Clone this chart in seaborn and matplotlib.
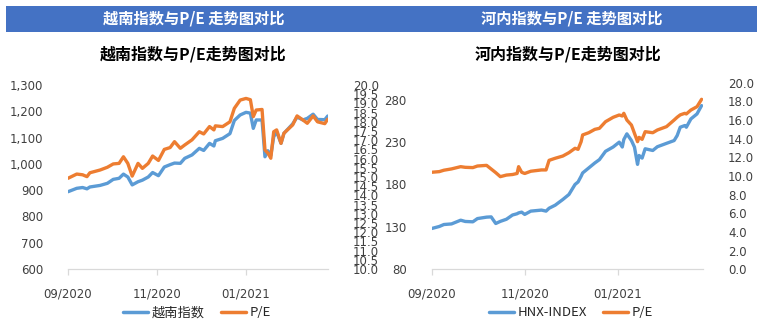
import matplotlib
matplotlib.use("Agg")
import matplotlib.pyplot as plt
import matplotlib.dates as mdates
from matplotlib.patches import Rectangle
from matplotlib.ticker import FuncFormatter, MultipleLocator, FixedLocator
from matplotlib.lines import Line2D
import seaborn as sns
import pandas as pd
import numpy as np

sns.set_theme(style="white")
plt.rcParams['font.family'] = ['DejaVu Sans', 'Noto Sans CJK SC']

# ---------------- data: Vietnam index vs P/E ----------------
vn_dates = ["2020-09-01", "2020-09-07", "2020-09-11", "2020-09-14", "2020-09-16", "2020-09-23",
            "2020-09-28", "2020-10-02", "2020-10-06", "2020-10-09", "2020-10-12", "2020-10-15",
            "2020-10-19", "2020-10-22", "2020-10-26", "2020-10-29", "2020-11-02", "2020-11-06",
            "2020-11-10", "2020-11-13", "2020-11-17", "2020-11-20", "2020-11-25", "2020-11-30",
            "2020-12-03", "2020-12-07", "2020-12-10", "2020-12-11", "2020-12-16", "2020-12-21",
            "2020-12-24", "2020-12-28", "2021-01-01", "2021-01-04", "2021-01-06", "2021-01-08",
            "2021-01-12", "2021-01-14", "2021-01-16", "2021-01-18", "2021-01-20", "2021-01-22",
            "2021-01-25", "2021-01-27", "2021-02-02", "2021-02-05", "2021-02-09", "2021-02-12",
            "2021-02-16", "2021-02-19", "2021-02-24", "2021-02-26"]
vn_index = [894, 907, 910, 905, 912, 918,
            926, 941, 945, 961, 950, 920,
            932, 938, 950, 967, 955, 988,
            997, 1003, 1002, 1021, 1034, 1059,
            1051, 1078, 1068, 1088, 1097, 1115,
            1165, 1186, 1196, 1193, 1135, 1167,
            1167, 1027, 1050, 1032, 1103, 1122,
            1078, 1116, 1152, 1178, 1167, 1173,
            1189, 1169, 1168, 1182]
vn_pe = [14.93, 15.16, 15.12, 15.02, 15.23, 15.38,
         15.53, 15.71, 15.74, 16.10, 15.74, 15.05,
         15.74, 15.47, 15.74, 16.14, 15.90, 16.50,
         16.60, 16.92, 16.56, 16.74, 17.02, 17.46,
         17.34, 17.74, 17.56, 17.78, 17.74, 18.00,
         18.73, 19.18, 19.27, 19.20, 18.28, 18.64,
         18.67, 16.47, 16.30, 16.02, 17.46, 17.56,
         16.83, 17.38, 17.83, 18.32, 18.10, 17.92,
         18.32, 18.00, 17.90, 18.14]

# ---------------- data: HNX index vs P/E ----------------
hnx_dates = ["2020-09-01", "2020-09-06", "2020-09-09", "2020-09-14", "2020-09-20", "2020-09-23",
             "2020-09-28", "2020-10-01", "2020-10-07", "2020-10-10", "2020-10-13", "2020-10-16",
             "2020-10-20", "2020-10-24", "2020-10-27", "2020-10-28", "2020-10-30", "2020-11-01",
             "2020-11-05", "2020-11-12", "2020-11-15", "2020-11-17", "2020-11-21", "2020-11-26",
             "2020-11-30", "2020-12-04", "2020-12-06", "2020-12-08", "2020-12-09", "2020-12-13",
             "2020-12-17", "2020-12-20", "2020-12-24", "2020-12-29", "2021-01-02", "2021-01-04",
             "2021-01-05", "2021-01-07", "2021-01-10", "2021-01-12", "2021-01-14", "2021-01-15",
             "2021-01-17", "2021-01-19", "2021-01-24", "2021-01-27", "2021-02-02", "2021-02-07",
             "2021-02-09", "2021-02-11", "2021-02-14", "2021-02-15", "2021-02-18", "2021-02-22",
             "2021-02-25"]
hnx_index = [128.1, 130.5, 132.8, 133.5, 137.9, 136.4,
             136.0, 139.8, 141.5, 141.8, 134.0, 136.5,
             139.0, 144.0, 145.5, 146.5, 147.4, 144.7,
             148.6, 149.8, 148.6, 152.0, 155.6, 162.3,
             168.2, 180.0, 183.0, 189.7, 193.6, 199.5,
             205.4, 209.3, 219.1, 224.2, 229.9, 224.2,
             233.0, 239.7, 231.8, 224.0, 203.7, 214.2,
             211.1, 222.1, 220.1, 224.5, 228.5, 231.8,
             237.7, 247.5, 249.5, 247.5, 257.3, 263.2,
             273.0]
hnx_pe = [10.40, 10.47, 10.62, 10.76, 11.00, 10.93,
          10.90, 11.07, 11.14, 10.75, 10.36, 9.93,
          10.10, 10.16, 10.27, 11.00, 10.40, 10.27,
          10.51, 10.65, 10.65, 11.68, 11.90, 12.14,
          12.50, 12.97, 12.86, 13.68, 14.40, 14.64,
          15.00, 15.11, 15.82, 16.29, 16.54, 16.43,
          16.72, 16.00, 15.46, 14.57, 13.68, 14.14,
          13.93, 14.75, 14.64, 14.93, 15.29, 16.00,
          16.30, 16.55, 16.72, 16.65, 17.07, 17.43,
          18.22]

header_titles = ["越南指数与P/E 走势图对比", "河内指数与P/E 走势图对比"]
chart_titles = ["越南指数与P/E走势图对比", "河内指数与P/E走势图对比"]
legend_labels = [["越南指数", "P/E"], ["HNX-INDEX", "P/E"]]
vn_left_ticks = [600, 700, 800, 900, 1000, 1100, 1200, 1300]
hnx_left_ticks = [80, 130, 180, 230, 280]

BLUE = "#5B9BD5"
ORANGE = "#ED7D31"
W, H = 762, 326

fig = plt.figure(figsize=(W / 100, H / 100), dpi=100)
fig.patch.set_facecolor("white")


def fx(px):
    return px / W


def fy(py):
    return 1 - py / H


# header bar
fig.patches.append(Rectangle((fx(6), fy(32)), fx(751), 26 / H, transform=fig.transFigure,
                             facecolor="#4472C4", edgecolor="none", zorder=0))
for cx, t in zip([194, 572], header_titles):
    fig.text(fx(cx), fy(19), t, color="white", ha="center", va="center", fontsize=11,
             fontweight="bold", family=["Noto Sans CJK SC", "DejaVu Sans"])
for cx, t in zip([193, 568], chart_titles):
    fig.text(fx(cx), fy(54), t, color="black", ha="center", va="center", fontsize=11.5,
             fontweight="bold", family=["Noto Sans CJK SC", "DejaVu Sans"])

start = pd.Timestamp("2020-09-01")
end = start + pd.Timedelta(days=178)

specs = [
    dict(dates=vn_dates, idx=vn_index, pe=vn_pe, x0=68, x1=327.7, ytop=85, ybot=269,
         ylim=(600, 1300), yticks=vn_left_ticks, y2lim=(10, 20), y2step=0.5,
         lfmt=lambda v, p: f"{v:,.0f}", leg=legend_labels[0], legx=197),
    dict(dates=hnx_dates, idx=hnx_index, pe=hnx_pe, x0=431.7, x1=703.1, ytop=82.7, ybot=269.3,
         ylim=(80, 300), yticks=hnx_left_ticks, y2lim=(0, 20), y2step=2,
         lfmt=lambda v, p: f"{v:.0f}", leg=legend_labels[1], legx=571),
]

for s in specs:
    ax = fig.add_axes([fx(s["x0"]), fy(s["ybot"]), fx(s["x1"] - s["x0"]), (s["ybot"] - s["ytop"]) / H])
    ax2 = ax.twinx()
    df = pd.DataFrame({"date": pd.to_datetime(s["dates"]), "idx": s["idx"], "pe": s["pe"]})
    sns.lineplot(data=df, x="date", y="idx", ax=ax, color=BLUE, linewidth=2.4, legend=False)
    sns.lineplot(data=df, x="date", y="pe", ax=ax2, color=ORANGE, linewidth=2.4, legend=False)
    for a in (ax, ax2):
        a.set_xlim(start, end)
        a.set_xlabel("")
        a.set_ylabel("")
        a.grid(False)
        a.set_facecolor("none")
        for sp in a.spines.values():
            sp.set_visible(False)
    ax.set_ylim(*s["ylim"])
    ax.yaxis.set_major_locator(FixedLocator(s["yticks"]))
    ax.yaxis.set_major_formatter(FuncFormatter(s["lfmt"]))
    ax2.set_ylim(*s["y2lim"])
    ax2.yaxis.set_major_locator(MultipleLocator(s["y2step"]))
    ax2.yaxis.set_major_formatter(FuncFormatter(lambda v, p: f"{v:.1f}"))
    ax.spines["bottom"].set_visible(True)
    ax.spines["bottom"].set_color("#D9D9D9")
    ax.spines["bottom"].set_linewidth(0.9)
    ax.xaxis.set_major_locator(mdates.MonthLocator(bymonth=[1, 3, 5, 7, 9, 11]))
    ax.xaxis.set_major_formatter(mdates.DateFormatter("%m/%Y"))
    ax.tick_params(axis="x", which="both", bottom=True, length=4, width=0.9, color="#D9D9D9",
                   labelsize=8.5, pad=9, labelcolor="#404040")
    ax.tick_params(axis="y", left=False, labelsize=8.5, pad=12, labelcolor="#404040")
    ax2.tick_params(axis="y", right=False, labelsize=8.5, pad=12, labelcolor="#404040")
    ax2.tick_params(axis="x", bottom=False, labelbottom=False)

    handles = [Line2D([], [], color=BLUE, linewidth=2.5), Line2D([], [], color=ORANGE, linewidth=2.5)]
    fig.legend(handles, s["leg"], loc="center", bbox_to_anchor=(fx(s["legx"]), fy(313)), ncol=2,
               frameon=False, handlelength=1.9, handletextpad=0.3, columnspacing=1.2,
               prop={"family": ["Noto Sans CJK SC", "DejaVu Sans"], "size": 9.5})

fig.savefig("out.png", dpi=100, facecolor="white")
